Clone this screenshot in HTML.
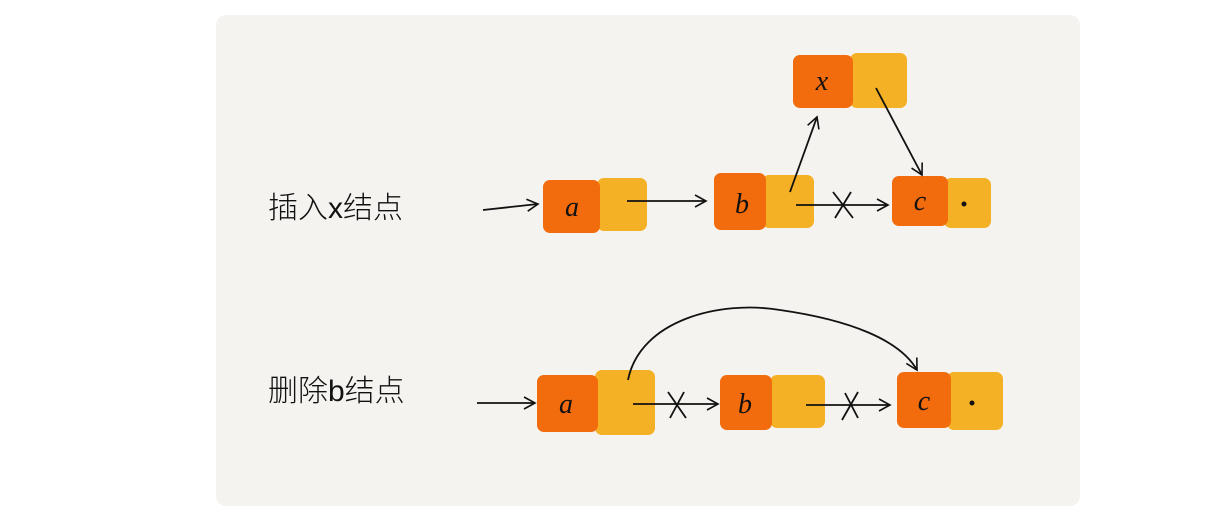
<!DOCTYPE html>
<html><head><meta charset="utf-8"><style>
html,body{margin:0;padding:0;background:#fff;width:1224px;height:516px;overflow:hidden}
.panel{position:absolute;left:216px;top:15px;width:864px;height:491px;background:#f4f3f0;border-radius:10px}
.lbl{position:absolute;font-family:"Liberation Sans","Noto Sans CJK SC",sans-serif;font-size:30px;color:#111;font-weight:300}
</style></head><body>
<div class="panel"></div>
<div class="lbl" style="left:268px;top:183px">插入x结点</div>
<div class="lbl" style="left:268px;top:366px">删除b结点</div>
<svg width="1224" height="516" style="position:absolute;left:0;top:0" font-family="Liberation Serif, serif" font-style="italic">
<defs><marker id="ah" markerWidth="14" markerHeight="14" refX="12" refY="7" orient="auto" markerUnits="userSpaceOnUse"><path d="M1,1 L12,7 L1,13" fill="none" stroke="#111" stroke-width="1.6"/></marker></defs>
<g stroke="none">
<!-- row1 -->
<rect x="597" y="178" width="50" height="53" rx="7" fill="#f5b125"/>
<rect x="543" y="180" width="57" height="53" rx="7" fill="#f26b0c"/>
<rect x="762" y="175" width="52" height="53" rx="7" fill="#f5b125"/>
<rect x="714" y="173" width="52" height="57" rx="7" fill="#f26b0c"/>
<rect x="944" y="178" width="47" height="50" rx="7" fill="#f5b125"/>
<rect x="892" y="176" width="56" height="50" rx="7" fill="#f26b0c"/>
<rect x="850" y="53" width="57" height="55" rx="7" fill="#f5b125"/>
<rect x="793" y="55" width="60" height="53" rx="7" fill="#f26b0c"/>
<!-- row2 -->
<rect x="595" y="370" width="60" height="65" rx="7" fill="#f5b125"/>
<rect x="537" y="375" width="61" height="57" rx="7" fill="#f26b0c"/>
<rect x="770" y="375" width="55" height="53" rx="7" fill="#f5b125"/>
<rect x="720" y="375" width="52" height="55" rx="7" fill="#f26b0c"/>
<rect x="947" y="372" width="56" height="58" rx="7" fill="#f5b125"/>
<rect x="897" y="372" width="54" height="56" rx="7" fill="#f26b0c"/>
</g>
<g font-size="28" fill="#111" text-anchor="middle">
<text x="572" y="216">a</text><text x="742" y="213">b</text><text x="920" y="210">c</text><text x="822" y="90">x</text>
<text x="566" y="413">a</text><text x="745" y="413">b</text><text x="924" y="410">c</text>
</g>
<circle cx="964" cy="204" r="2.5" fill="#111"/><circle cx="972" cy="403" r="2.5" fill="#111"/>
<g stroke="#111" stroke-width="1.8" fill="none">
<path d="M483,210 L538,204" marker-end="url(#ah)"/>
<path d="M627,201 L706,201" marker-end="url(#ah)"/>
<path d="M790,192 L817,117" marker-end="url(#ah)"/>
<path d="M796,205 L888,205" marker-end="url(#ah)"/>
<path d="M833,192 L853,218 M851,192 L835,218"/>
<path d="M876,88 L922,175" marker-end="url(#ah)"/>
<path d="M477,403 L535,403" marker-end="url(#ah)"/>
<path d="M633,404 L718,404" marker-end="url(#ah)"/>
<path d="M668,392 L686,418 M684,392 L670,418"/>
<path d="M806,405 L890,405" marker-end="url(#ah)"/>
<path d="M845,393 L858,418 M858,392 L842,420"/>
<path d="M628,380 C640,320 720,300 780,310 C850,320 900,340 917,370" marker-end="url(#ah)"/>
</g>
</svg>
</body></html>
